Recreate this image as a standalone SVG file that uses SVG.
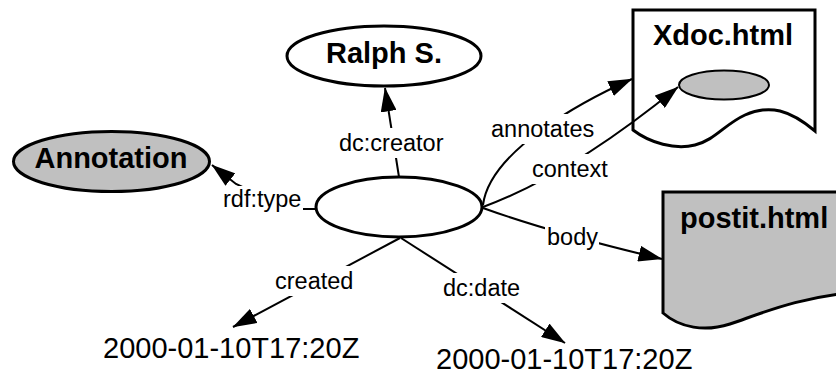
<svg xmlns="http://www.w3.org/2000/svg" width="836" height="376" viewBox="0 0 836 376">
  <style>
    .node { stroke: #000; stroke-width: 3; stroke-linejoin: miter; }
    .white { fill: #fff; }
    .gray { fill: #c0c0c0; }
    .title { font-family: "Liberation Sans", Arial, sans-serif; font-weight: bold; font-size: 29px; fill: #000; }
    .literal { font-family: "Liberation Sans", Arial, sans-serif; font-size: 29px; fill: #000; }
    .edge { fill: none; stroke: #000; stroke-width: 2; marker-end: url(#arrow); }
    .lblbg { fill: #fff; stroke: none; }
    .lbl { font-family: "Liberation Sans", Arial, sans-serif; font-size: 23.5px; fill: #000; }
  </style>
  <defs>
    <marker id="arrow" viewBox="0 0 24 16" refX="23.5" refY="8" markerWidth="24" markerHeight="16" markerUnits="userSpaceOnUse" orient="auto">
      <path d="M0,0 L24,8 L0,16 Z" fill="#000"/>
    </marker>
  </defs>

  <!-- resources -->
  <g id="annotation-node">
    <ellipse class="node white" cx="399" cy="207" rx="83" ry="30"/>
  </g>

  <g id="ralph">
    <ellipse class="node white" cx="384" cy="56" rx="97" ry="30"/>
    <text class="title" x="384" y="63" text-anchor="middle">Ralph S.</text>
  </g>

  <g id="annotation-class">
    <ellipse class="node gray" cx="111.5" cy="161.5" rx="98" ry="30"/>
    <text class="title" x="111" y="168" text-anchor="middle">Annotation</text>
  </g>

  <g id="xdoc">
    <path class="node white" d="M633,10 H815 V131 C790,110 770,104 745,115 C725,124 715,140 695,145 C675,150 650,143 633,130 Z"/>
    <text class="title" x="723" y="45" text-anchor="middle">Xdoc.html</text>
    <ellipse id="xdoc-context" cx="724" cy="85" rx="45" ry="14.5" fill="#c0c0c0" stroke="#000" stroke-width="2"/>
  </g>

  <g id="postit">
    <path class="node gray" d="M663,192 H860 V292 C800,296 760,314 730,324 C705,332 680,328 663,313 Z"/>
    <text class="title" x="680" y="228">postit.html</text>
  </g>

  <g id="created-literal">
    <text class="literal" x="103" y="358">2000-01-10T17:20Z</text>
  </g>

  <g id="date-literal">
    <text class="literal" x="436" y="369">2000-01-10T17:20Z</text>
  </g>

  <!-- properties -->
  <g id="connectors">
    <g id="e-creator">
      <path class="edge" d="M399,177 L385,88"/>
      <rect class="lblbg" x="337" y="128" width="111" height="30"/>
      <text class="lbl" x="339" y="151">dc:creator</text>
    </g>
    <g id="e-type">
      <path class="edge" d="M315,209 L290,209 L236,184 L212,165"/>
      <rect class="lblbg" x="221" y="186" width="82" height="28"/>
      <text class="lbl" x="223" y="207">rdf:type</text>
    </g>
    <g id="e-annotates">
      <path class="edge" d="M483,205 C490,150 585,100 632,79"/>
      <rect class="lblbg" x="489" y="114" width="107" height="30"/>
      <text class="lbl" x="491" y="137">annotates</text>
    </g>
    <g id="e-context">
      <path class="edge" d="M483,207 Q570,175 678,87"/>
      <rect class="lblbg" x="530" y="154" width="80" height="30"/>
      <text class="lbl" x="532" y="177">context</text>
    </g>
    <g id="e-body">
      <path class="edge" d="M483,208 Q552,233 662,259"/>
      <rect class="lblbg" x="545" y="222" width="54" height="30"/>
      <text class="lbl" x="547" y="245">body</text>
    </g>
    <g id="e-created">
      <path class="edge" d="M400,238 L233,327"/>
      <rect class="lblbg" x="273" y="266" width="84" height="30"/>
      <text class="lbl" x="275" y="289">created</text>
    </g>
    <g id="e-date">
      <path class="edge" d="M401,238 L565,343"/>
      <rect class="lblbg" x="441" y="273" width="80" height="30"/>
      <text class="lbl" x="443" y="296">dc:date</text>
    </g>
  </g>
</svg>
